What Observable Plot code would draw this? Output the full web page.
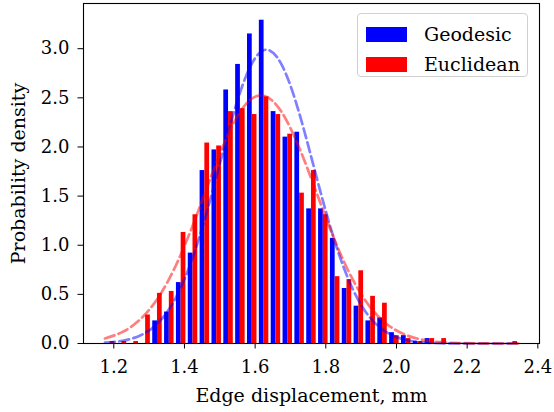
<!DOCTYPE html>
<html>
<head>
<meta charset="utf-8">
<script src="https://cdn.jsdelivr.net/npm/d3@7"></script>
<script src="https://cdn.jsdelivr.net/npm/@observablehq/plot@0.6"></script>
<style>
  html, body { margin: 0; padding: 0; background: #fff; }
  #wrap { position: relative; width: 554px; height: 412px; font-family: "DejaVu Serif", serif; }
  #wrap svg text { font-family: "DejaVu Serif", serif; }
  #legend { position: absolute; left: 357px; top: 13px; width: 171px; height: 64px; box-sizing: border-box;
            border: 1px solid #d0d0d0; border-radius: 4px; background: rgba(255,255,255,0.8); }
  .item { position: absolute; left: 8px; height: 20px; display: flex; align-items: center; font-size: 19px; color: #000; }
  .sw { width: 41px; height: 15px; margin-right: 17px; }
</style>
</head>
<body>
<div id="wrap"></div>
<script>
// Histogram bin layout (35 bins over the combined data range)
const binStart = 1.1728;
const binWidth = 0.03352;

// Probability density per bin
const geodesic = [0, 0, 0, 0, 0.23, 0.32, 0.62, 0.92, 1.76, 1.97, 2.58, 2.84, 3.15, 3.29, 2.36, 2.10, 2.15, 1.37, 1.37, 1.07, 0.56, 0.38, 0.23, 0.26, 0.11, 0.08, 0.02, 0.05, 0, 0, 0, 0, 0, 0, 0];
const euclidean = [0.02, 0.02, 0.02, 0.29, 0.51, 0.53, 1.13, 1.31, 2.04, 2.01, 2.36, 2.39, 2.33, 2.51, 2.33, 2.13, 1.53, 1.76, 1.31, 0.68, 0.65, 0.74, 0.48, 0.41, 0.08, 0.05, 0.02, 0.05, 0.05, 0, 0, 0, 0, 0, 0.02];

// Fitted normal curves (dashed lines)
const curveX = [1.175, 1.225, 1.275, 1.325, 1.375, 1.425, 1.475, 1.525, 1.575, 1.625, 1.675, 1.725, 1.775, 1.825, 1.875, 1.925, 1.975, 2.025, 2.075, 2.125, 2.175, 2.225, 2.275, 2.325, 2.345];
const geodesicFit = [0.008, 0.028, 0.082, 0.208, 0.462, 0.891, 1.489, 2.163, 2.728, 2.986, 2.838, 2.342, 1.677, 1.043, 0.563, 0.264, 0.108, 0.038, 0.012, 0.003, 0.001, 0, 0, 0, 0];
const euclideanFit = [0.051, 0.118, 0.246, 0.463, 0.789, 1.216, 1.696, 2.139, 2.441, 2.521, 2.355, 1.990, 1.522, 1.053, 0.659, 0.373, 0.191, 0.089, 0.037, 0.014, 0.005, 0.002, 0.0004, 0.0001, 0];

const series = ["Geodesic", "Euclidean"];
const colors = ["#0000ff", "#ff0000"];
const xTicks = [1.2, 1.4, 1.6, 1.8, 2.0, 2.2, 2.4];
const yTicks = [0, 0.5, 1.0, 1.5, 2.0, 2.5, 3.0];
const xLabel = "Edge displacement, mm";
const yLabel = "Probability density";

// matplotlib-style side-by-side bars: each 40% of the bin, centred at 30% / 70%
const bars = [];
[geodesic, euclidean].forEach((vals, s) => {
  vals.forEach((v, k) => {
    const a = binStart + k * binWidth;
    const off = s === 0 ? 0.1 : 0.5;
    bars.push({series: series[s], x1: a + off * binWidth, x2: a + (off + 0.4) * binWidth, y: v});
  });
});
const fits = [];
[geodesicFit, euclideanFit].forEach((vals, s) => {
  vals.forEach((v, i) => fits.push({series: series[s], x: curveX[i], y: v}));
});

const fmt = d => d.toFixed(1);

const chart = Plot.plot({
  width: 554,
  height: 412,
  marginLeft: 83,
  marginRight: 15,
  marginTop: 3,
  marginBottom: 69,
  style: {fontFamily: "DejaVu Serif", color: "#000", background: "#fff"},
  x: {domain: [1.1143, 2.4047]},
  y: {domain: [0, 3.46]},
  color: {domain: series, range: colors},
  marks: [
    Plot.rectY(bars, {x1: "x1", x2: "x2", y: "y", fill: "series", inset: 0}),
    Plot.line(fits, {x: "x", y: "y", z: "series", stroke: "series", strokeWidth: 2.7,
      strokeOpacity: 0.5, strokeDasharray: "10,4.4", curve: "natural"}),
    Plot.frame({stroke: "#000", strokeWidth: 1.1}),
    Plot.axisX({ticks: xTicks, tickFormat: () => "", tickSize: 5.5, label: null, stroke: "#000"}),
    Plot.axisY({ticks: yTicks, tickFormat: () => "", tickSize: 5.5, label: null, stroke: "#000"}),
    Plot.text(xTicks, {x: d => d, text: fmt, frameAnchor: "bottom", lineAnchor: "middle", textAnchor: "middle", dy: 24, fontSize: 18, fill: "#000"}),
    Plot.text(yTicks, {y: d => d, text: fmt, frameAnchor: "left", lineAnchor: "middle", textAnchor: "end", dx: -14, fontSize: 18, fill: "#000"}),
    Plot.text([xLabel], {frameAnchor: "bottom", lineAnchor: "middle", textAnchor: "middle", dy: 52, fontSize: 19, fill: "#000"}),
    Plot.text([yLabel], {frameAnchor: "left", lineAnchor: "middle", textAnchor: "middle", dx: -65, rotate: -90, fontSize: 19, fill: "#000"})
  ]
});

const wrap = document.getElementById("wrap");
wrap.appendChild(chart);
const legend = document.createElement("div");
legend.id = "legend";
series.forEach((name, i) => {
  const item = document.createElement("div");
  item.className = "item";
  item.style.top = (i === 0 ? 10 : 40) + "px";
  const sw = document.createElement("div");
  sw.className = "sw";
  sw.style.background = colors[i];
  item.appendChild(sw);
  const t = document.createElement("span");
  t.textContent = name;
  item.appendChild(t);
  legend.appendChild(item);
});
wrap.appendChild(legend);
</script>
</body>
</html>
